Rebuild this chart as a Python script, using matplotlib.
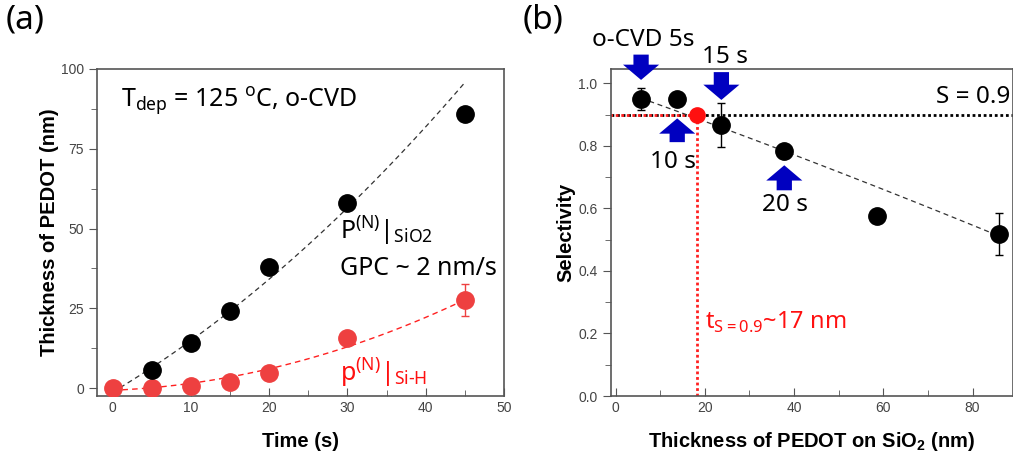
import numpy as np
import matplotlib
matplotlib.use('Agg')
import matplotlib.pyplot as plt

plt.rcParams['font.family'] = ['Noto Sans', 'DejaVu Sans']
plt.rcParams['mathtext.fontset'] = 'custom'
plt.rcParams['mathtext.rm'] = 'Noto Sans'

# (a) thickness vs time
time_sio2 = [5, 10, 15, 20, 30, 45]
thick_sio2 = [5.5, 14, 24, 38, 58, 86]
time_sih = [0, 5, 10, 15, 20, 30, 45]
thick_sih = [0, 0, 0.5, 1.8, 4.6, 15.6, 27.5]
err_sih = [0, 0, 0, 0, 0, 0, 5]

# points
fit_sio2_t = [0, 10, 20, 30, 45]
fit_sio2_y = [0, 12.5, 34, 58.5, 95]
fit_sih_t = [0, 10, 20, 30, 45]
fit_sih_y = [-0.6, 1.5, 5.5, 13.5, 27.5]

# (b) selectivity vs thickness on SiO2
thick_b = [5.7, 13.8, 23.7, 37.8, 58.5, 86]
select_b = [0.95, 0.95, 0.867, 0.785, 0.577, 0.518]
err_b = [0.035, 0, 0.07, 0, 0, 0.068]
fit_b_x = [5.7, 23.7, 37.8, 58.5, 86]
fit_b_y = [0.945, 0.875, 0.78, 0.66, 0.515]
t_crit = 18.3
s_crit = 0.9

fig = plt.figure(figsize=(10.13, 4.53), dpi=100)
ax1 = fig.add_axes([0.0958, 0.1258, 0.4017, 0.7219])
ax2 = fig.add_axes([0.6029, 0.1258, 0.3968, 0.7219])

tick_col = '#444444'
red = '#ee4040'


def style_axes(ax):
    for s in ax.spines.values():
        s.set_color('#555555')
        s.set_linewidth(1.2)
    ax.tick_params(axis='y', which='both', direction='out', colors='#555555',
                   labelcolor=tick_col, labelsize=10)
    ax.tick_params(axis='x', which='both', direction='in', colors='#555555',
                   labelcolor=tick_col, labelsize=10)
    ax.tick_params(which='major', length=6)
    ax.tick_params(which='minor', length=4)
    for lab in ax.get_xticklabels() + ax.get_yticklabels():
        lab.set_family('Liberation Sans')


# ---- panel (a)
tt = np.linspace(0, 45, 100)
c1 = np.polyfit(fit_sio2_t, fit_sio2_y, 2)
c2 = np.polyfit(fit_sih_t, fit_sih_y, 2)
ax1.plot(tt, np.polyval(c1, tt), ls=(0, (4, 3)), color='#333333', lw=0.9)
ax1.plot(tt, np.polyval(c2, tt), ls=(0, (4, 3)), color='#ff2020', lw=1.0)
ax1.errorbar(time_sih, thick_sih, yerr=err_sih, fmt='o', color=red, ms=12.5,
             ecolor=red, elinewidth=1, capsize=3, zorder=3)
ax1.plot(time_sio2, thick_sio2, 'o', color='black', ms=12.5, zorder=4)

ax1.set_xlim(-2, 50)
ax1.set_ylim(-2.5, 100)
ax1.set_xticks([0, 10, 20, 30, 40, 50])
ax1.set_xticks([5, 15, 25, 35, 45], minor=True)
ax1.set_yticks([0, 25, 50, 75, 100])
ax1.set_yticks([12.5, 37.5, 62.5, 87.5], minor=True)
style_axes(ax1)
ax1.set_xlabel('Time (s)', family='Liberation Sans', fontweight='bold',
               fontsize=14.5, labelpad=12)
ax1.set_ylabel('Thickness of PEDOT (nm)', family='Liberation Sans',
               fontweight='bold', fontsize=14.5, labelpad=1)

ax1.text(1.0, 90, r'T$_{\mathregular{dep}}$ = 125 $^{\mathregular{o}}$C, o-CVD',
         fontsize=18, va='center')
ax1.text(29.1, 49, r'P$^{\mathregular{(N)}}$|$_{\mathregular{SiO2}}$',
         fontsize=18, va='center')
ax1.text(29.1, 37.5, 'GPC ~ 2 nm/s', fontsize=18, va='center')
ax1.text(29.1, 4.5, r'p$^{\mathregular{(N)}}$|$_{\mathregular{Si\text{-}H}}$',
         fontsize=18, va='center', color='#ff1010')
fig.text(0.006, 0.955, '(a)', fontsize=24, va='center')

# ---- panel (b)
xx = np.linspace(5.7, 86, 100)
c3 = np.polyfit(fit_b_x, fit_b_y, 2)
ax2.axhline(s_crit, color='black', ls=(0, (1, 1)), lw=2)
ax2.plot([-5, t_crit], [s_crit, s_crit], color='#ff2020', ls=(0, (1, 1)), lw=2)
ax2.plot([t_crit, t_crit], [0, s_crit], color='#ff2020', ls=(0, (1, 1)), lw=2)
ax2.plot(xx, np.polyval(c3, xx), ls=(0, (4, 3)), color='#333333', lw=0.9)
ax2.errorbar(thick_b, select_b, yerr=err_b, fmt='o', color='black', ms=12.5,
             ecolor='black', elinewidth=1, capsize=3, zorder=4)
ax2.plot([t_crit], [s_crit], 'o', color='#ff1010', ms=11, zorder=5)

ax2.set_xlim(-1.1, 89)
ax2.set_ylim(0, 1.046)
ax2.set_xticks([0, 20, 40, 60, 80])
ax2.set_xticks([10, 30, 50, 70], minor=True)
ax2.set_yticks([0, 0.2, 0.4, 0.6, 0.8, 1.0])
ax2.set_yticks([0.1, 0.3, 0.5, 0.7, 0.9], minor=True)
style_axes(ax2)
ax2.set_xlabel(r'Thickness of PEDOT on SiO$_{\mathregular{2}}$ (nm)',
               family='Liberation Sans', fontweight='bold', fontsize=14.5,
               labelpad=11)
ax2.set_ylabel('Selectivity', family='Liberation Sans', fontweight='bold',
               fontsize=14.5, labelpad=2)

arrow_kw = dict(arrowstyle='simple,head_width=1.3,head_length=0.55,tail_width=0.55',
                mutation_scale=20, color='#0000c0', lw=0, shrinkA=0, shrinkB=0)
arrows = [((5.7, 1.011), (5.7, 1.092)), ((23.7, 0.947), (23.7, 1.036)),
          ((13.8, 0.888), (13.8, 0.812)), ((37.8, 0.738), (37.8, 0.658))]
for tip, tail in arrows:
    ax2.annotate('', xy=tip, xytext=tail, arrowprops=arrow_kw,
                 annotation_clip=False, zorder=6)

ax2.text(-5.3, 1.139, 'o-CVD 5s', fontsize=17.5, va='center', clip_on=False)
ax2.text(19.3, 1.084, '15 s', fontsize=17.5, va='center', clip_on=False)
ax2.text(88.4, 0.958, 'S = 0.9', fontsize=17.5, va='center', ha='right')
ax2.text(7.7, 0.748, '10 s', fontsize=17.5, va='center')
ax2.text(32.8, 0.61, '20 s', fontsize=17.5, va='center')
ax2.text(20.0, 0.236, r't$_{\mathregular{S=0.9}}$~17 nm', fontsize=17,
         va='center', color='#ff1010')
fig.text(0.516, 0.955, '(b)', fontsize=24, va='center')

fig.savefig('out.png', dpi=100)
